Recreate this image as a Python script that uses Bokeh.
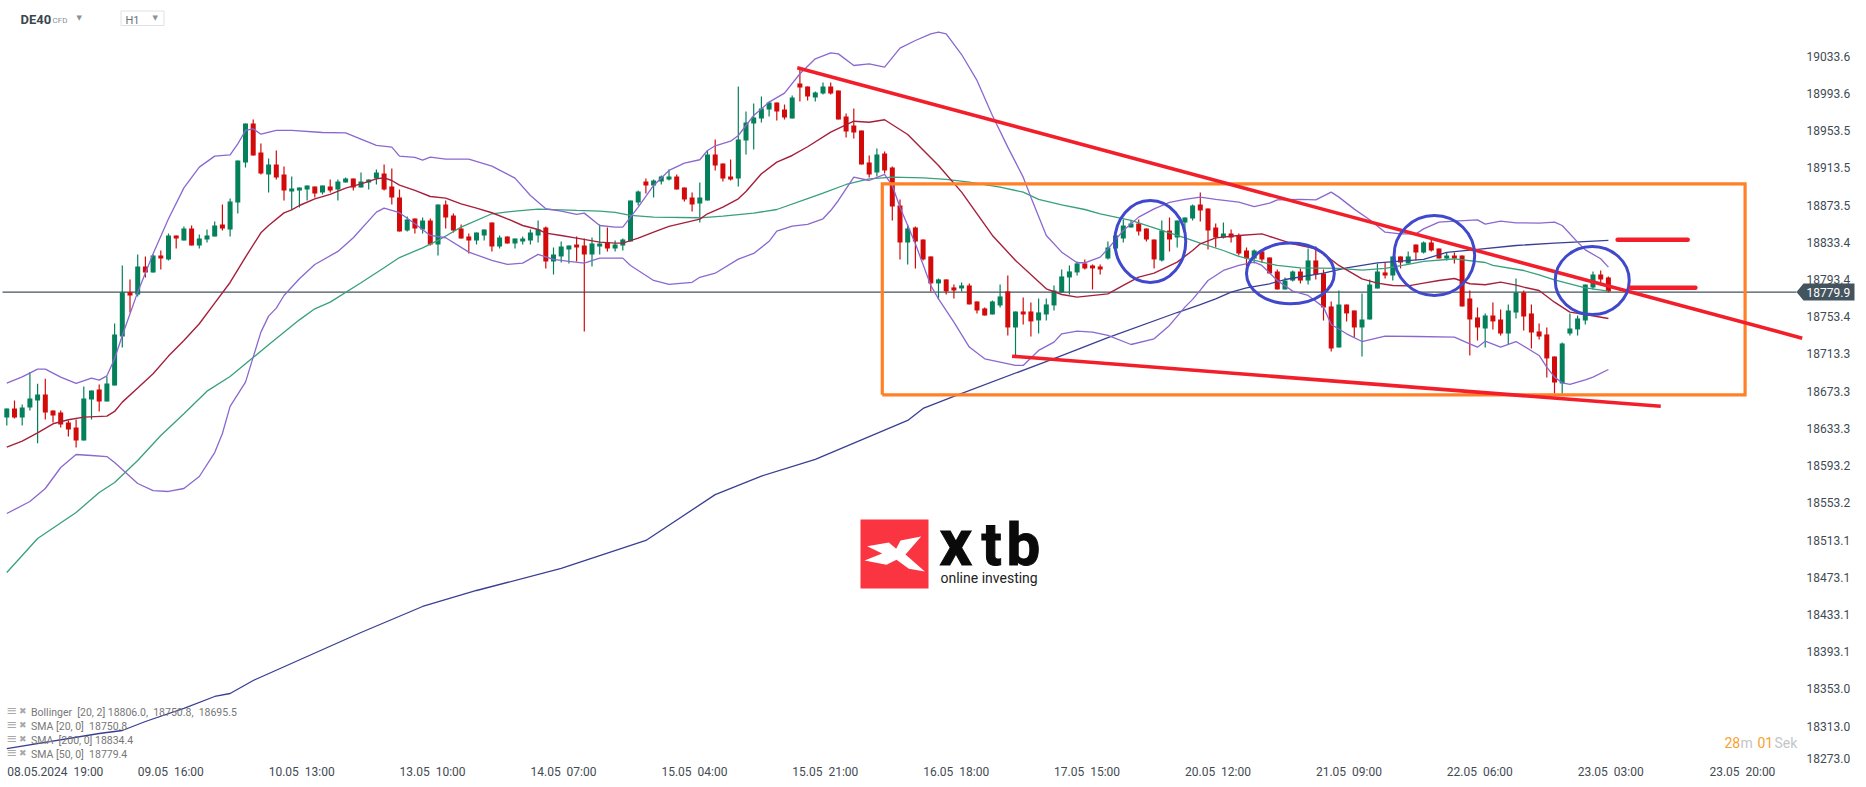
from bokeh.plotting import figure
from bokeh.models import ColumnDataSource, FixedTicker, Label, Range1d
from bokeh.embed import file_html
from bokeh.resources import INLINE

# ---------- data: open / high / low / close per hourly bar ----------
opens = [18645.0,18654.7,18645.0,18655.8,18663.3,18669.8,18652.5,18650.4,18639.6,18634.3,18620.3,18664.4,18675.1,18662.2,18679.4,18732.1,18779.8,18777.3,18807.4,18801.0,18819.3,18815.0,18840.8,18835.4,18848.3,18830.0,18836.5,18839.7,18852.6,18847.2,18876.3,18919.3,18961.2,18930.0,18906.4,18917.1,18906.4,18888.1,18889.2,18890.2,18893.5,18887.0,18893.5,18890.2,18897.8,18902.1,18892.4,18897.8,18902.1,18907.4,18893.5,18881.6,
18846.2,18859.1,18847.2,18856.9,18831.1,18874.1,18862.3,18848.3,18839.7,18835.4,18840.8,18854.8,18829.0,18839.7,18832.2,18834.3,18835.4,18840.8,18849.4,18812.8,18818.2,18825.7,18831.1,18830.0,18820.4,18829.0,18833.3,18826.8,18830.0,18834.3,18876.3,18898.9,18894.6,18898.9,18901.0,18904.2,18892.4,18881.7,18875.2,18878.4,18927.9,18918.2,18904.2,18902.1,18943.0,18961.2,18966.6,18976.3,18983.8,18976.3,18966.6,19004.3,
19001.0,18989.2,18993.5,19001.0,18996.7,18968.8,18959.1,18953.7,18919.3,18908.5,18929.0,18913.9,18873.1,18833.3,18849.4,18836.5,18818.2,18789.2,18793.5,18784.9,18783.8,18787.0,18769.8,18762.3,18755.8,18765.5,18780.6,18741.8,18759.0,18759.0,18749.4,18755.8,18765.5,18779.5,18795.6,18801.0,18810.7,18808.5,18807.4,18816.0,18826.8,18837.6,18849.4,18853.7,18848.3,18836.5,18813.9,18846.2,18838.6,18854.8,18859.1,18874.1,
18869.8,18849.4,18838.6,18842.9,18840.7,18824.6,18816.0,18823.5,18817.1,18802.0,18782.7,18792.3,18802.0,18792.3,18813.9,18799.9,18764.4,18720.3,18766.5,18760.1,18741.8,18750.4,18783.7,18801.0,18797.7,18818.2,18810.6,18831.1,18822.5,18833.2,18826.8,18816.0,18819.2,18819.2,18773.0,18752.6,18740.7,18754.7,18750.4,18735.3,18757.9,18779.4,18756.9,18737.5,18734.3,18710.6,18681.6,18735.3,18739.7,18749.3,18784.8,18798.8,18795.6]
highs = [18654.7,18663.3,18659.0,18693.8,18681.2,18686.6,18652.5,18652.5,18641.8,18642.9,18678.4,18674.1,18680.5,18689.1,18746.1,18808.5,18793.4,18820.3,18818.2,18820.3,18824.6,18842.9,18840.8,18850.4,18851.5,18841.8,18847.2,18855.8,18874.1,18880.6,18921.4,18961.2,18965.5,18939.7,18923.6,18932.2,18915.0,18904.2,18892.4,18894.5,18893.5,18894.5,18901.0,18901.0,18903.1,18902.1,18908.5,18901.0,18911.7,18917.1,18912.8,18890.2,
18861.2,18859.1,18860.1,18859.1,18874.1,18878.4,18864.4,18852.6,18842.9,18844.0,18847.2,18854.8,18840.8,18839.7,18837.6,18839.7,18847.2,18856.9,18850.5,18827.9,18834.3,18830.0,18839.7,18837.6,18838.6,18852.6,18849.4,18835.4,18837.6,18878.4,18889.2,18902.1,18901.0,18905.3,18911.8,18906.4,18892.4,18887.0,18897.8,18932.2,18944.0,18918.2,18922.5,19001.0,18974.1,18982.8,18990.3,18984.9,18983.8,18981.7,18991.4,19020.4,
19001.0,18995.7,19005.3,19005.3,18996.7,18972.0,18977.4,18953.7,18926.8,18934.4,18931.1,18915.0,18879.5,18852.6,18850.5,18836.5,18818.2,18794.5,18793.5,18788.1,18790.2,18789.2,18769.8,18763.3,18770.9,18788.1,18797.8,18759.0,18774.1,18768.7,18773.0,18773.0,18787.0,18804.2,18808.5,18812.8,18815.0,18809.6,18809.6,18834.3,18846.2,18858.0,18856.9,18858.0,18848.3,18836.5,18856.9,18860.1,18856.9,18860.1,18874.1,18887.0,
18869.8,18853.7,18854.7,18847.2,18842.9,18827.8,18825.7,18825.7,18817.1,18804.2,18795.6,18803.1,18805.3,18826.8,18828.9,18804.2,18769.8,18781.6,18766.5,18760.1,18778.4,18793.4,18810.6,18811.7,18818.2,18818.2,18823.5,18831.1,18834.3,18836.4,18826.8,18822.5,18822.5,18819.2,18781.6,18763.3,18756.9,18768.7,18761.2,18766.5,18794.5,18781.6,18766.5,18746.1,18741.8,18710.6,18725.7,18756.9,18754.7,18788.0,18802.0,18803.1,18796.7]
lows = [18636.4,18643.9,18636.4,18652.5,18617.4,18642.9,18639.6,18634.3,18624.6,18612.8,18620.3,18642.9,18651.5,18662.2,18679.4,18720.3,18757.9,18775.2,18795.6,18801.0,18804.2,18813.9,18826.8,18835.4,18830.0,18826.8,18833.2,18839.7,18846.1,18839.7,18864.4,18913.9,18926.8,18906.4,18887.0,18901.0,18878.4,18868.7,18870.9,18878.4,18881.6,18884.9,18887.0,18878.4,18897.8,18889.2,18892.4,18890.2,18895.6,18889.2,18874.1,18845.1,
18845.1,18842.9,18842.9,18830.0,18819.3,18848.3,18844.0,18837.6,18821.4,18831.1,18835.4,18823.6,18826.8,18832.2,18826.8,18831.1,18831.1,18833.3,18805.3,18798.8,18811.7,18810.7,18812.8,18737.5,18807.4,18820.4,18823.6,18823.6,18824.7,18834.3,18873.1,18886.0,18881.7,18895.6,18899.9,18890.3,18877.4,18866.6,18854.8,18878.4,18910.7,18898.9,18899.9,18893.5,18927.9,18933.3,18962.3,18968.8,18964.5,18965.5,18966.6,18984.9,
18986.0,18984.9,18992.4,18992.4,18965.5,18946.2,18945.1,18917.1,18903.2,18904.2,18907.5,18856.9,18815.0,18809.6,18805.3,18813.9,18780.6,18772.0,18777.3,18773.0,18780.6,18766.6,18756.9,18754.7,18755.8,18763.3,18733.2,18709.6,18745.1,18732.2,18735.4,18749.4,18760.1,18779.5,18777.3,18797.8,18804.2,18782.7,18798.8,18815.0,18826.8,18833.3,18849.4,18840.8,18834.3,18805.3,18812.8,18823.6,18827.9,18840.8,18856.9,18855.8,
18825.7,18827.8,18837.5,18833.2,18819.2,18807.4,18810.6,18811.7,18799.9,18782.7,18782.7,18791.3,18789.1,18788.0,18793.4,18749.3,18716.0,18720.3,18748.3,18731.0,18710.6,18750.4,18783.7,18794.5,18792.3,18805.3,18810.6,18813.9,18821.4,18823.5,18816.0,18813.9,18810.6,18764.4,18711.7,18727.8,18720.3,18739.7,18733.2,18723.5,18751.5,18738.6,18719.2,18728.9,18688.0,18670.8,18670.4,18733.2,18733.2,18745.0,18782.7,18788.0,18779.4]
closes = [18654.7,18645.0,18655.8,18665.5,18669.8,18650.4,18647.2,18637.5,18632.1,18620.3,18665.5,18674.1,18662.2,18681.6,18734.3,18779.8,18776.2,18807.4,18801.0,18819.3,18816.0,18840.8,18837.5,18848.3,18830.0,18837.5,18840.8,18851.5,18848.3,18877.3,18921.4,18961.2,18926.8,18907.4,18917.1,18903.1,18889.2,18891.3,18892.4,18894.5,18885.9,18894.5,18889.2,18898.8,18902.1,18892.4,18898.8,18901.0,18908.5,18890.2,18881.6,18845.1,
18858.0,18848.3,18856.9,18831.1,18874.1,18860.1,18846.2,18837.6,18835.4,18844.0,18847.2,18829.0,18838.6,18832.2,18837.6,18837.6,18844.0,18847.2,18812.8,18820.4,18829.0,18830.0,18827.9,18820.4,18832.2,18832.2,18826.8,18831.1,18836.5,18878.4,18888.1,18894.6,18899.9,18904.2,18904.2,18890.3,18879.5,18874.1,18881.7,18927.9,18916.1,18902.1,18901.0,18944.0,18962.3,18967.7,18977.4,18983.8,18974.1,18967.7,18989.2,19000.0,
18990.3,18994.6,19001.0,18993.5,18965.5,18952.6,18951.6,18917.1,18906.4,18927.9,18910.7,18872.0,18833.3,18848.3,18834.3,18815.0,18789.2,18793.5,18780.6,18781.6,18787.0,18766.6,18760.1,18754.7,18769.8,18775.2,18741.8,18759.0,18755.8,18748.3,18758.0,18766.6,18781.6,18796.7,18802.1,18810.7,18805.3,18805.3,18804.2,18827.9,18840.8,18851.5,18853.7,18845.1,18836.5,18815.0,18846.2,18836.5,18856.9,18860.1,18873.1,18867.7,
18846.1,18838.6,18842.9,18838.6,18821.4,18816.0,18824.6,18814.9,18799.9,18782.7,18792.3,18802.0,18792.3,18813.9,18798.8,18763.3,18719.2,18766.5,18756.9,18741.8,18750.4,18788.0,18802.0,18797.7,18818.2,18811.7,18818.2,18822.5,18833.2,18824.6,18816.0,18819.2,18816.0,18764.4,18750.4,18741.8,18754.7,18748.3,18735.3,18760.1,18779.4,18753.6,18736.4,18732.1,18708.5,18682.6,18724.6,18740.7,18751.5,18788.0,18798.8,18793.4,18780.5]

bb_up_bars = [0,2,4,5,7,9,11,12,13,14,15,17,19,21,23,25,27,29,30,31,32,33,35,37,41,44,46,48,50,51,53,54,55,57,60,63,66,68,70,72,74,75,77,79,80,82,84,86,88,90,91,92,94,95,97,99,101,103,105,107,108,110,112,114,116,118,120,121,122,124,126,128,130,132,133,135,137,139,140,142,143,145,147,149,151,153,155,157,160,162,164,165,168,170,172,173,175,177,179,181,183,184,186,188,191,192,194,196,199,201,202,204,205,207,208]
bb_up_vals = [18681.9,18688.7,18697.0,18697.0,18688.4,18681.6,18687.3,18685.2,18689.8,18708.1,18733.2,18779.8,18821.0,18858.7,18892.0,18914.3,18926.1,18927.5,18939.3,18953.7,18955.5,18949.7,18953.7,18953.7,18951.5,18951.2,18944.4,18937.6,18935.8,18926.1,18924.7,18921.8,18925.0,18922.9,18922.9,18915.4,18902.4,18883.8,18869.5,18867.0,18863.4,18864.8,18851.5,18849.8,18849.8,18871.3,18894.6,18910.7,18918.6,18922.2,18932.2,18937.2,18942.2,18948.3,18969.8,18984.2,18993.9,19014.7,19030.8,19037.2,19036.1,19023.6,19025.4,19021.8,19042.2,19050.5,19057.6,19059.4,19057.6,19035.4,19007.5,18969.8,18935.8,18903.5,18882.0,18840.8,18822.8,18811.4,18811.4,18817.5,18826.4,18846.1,18860.5,18869.4,18876.3,18879.5,18882.0,18879.5,18876.6,18871.9,18875.5,18879.1,18879.5,18879.1,18887.4,18882.0,18869.1,18857.6,18844.3,18842.5,18842.5,18847.9,18855.1,18856.2,18857.6,18852.9,18856.2,18854.4,18854.0,18855.1,18851.5,18833.6,18825.3,18815.7,18806.7]

bb_lo_bars = [0,3,5,7,9,11,13,14,15,17,19,21,23,25,27,28,29,31,32,33,34,35,36,38,40,43,45,48,49,51,53,55,57,60,63,65,67,69,71,73,75,77,80,81,84,86,89,90,92,95,97,99,100,102,104,106,107,108,110,112,114,115,116,118,120,121,123,125,127,129,131,132,134,136,137,139,141,143,146,149,151,153,154,155,156,158,160,162,163,165,167,169,171,172,174,176,179,183,188,190,191,192,194,196,199,200,201,202,203,205,206,208]
bb_lo_vals = [18541.7,18554.6,18568.6,18591.2,18605.2,18604.1,18603.0,18596.6,18589.0,18574.0,18566.4,18565.4,18568.6,18581.5,18607.3,18627.8,18657.0,18683.0,18709.9,18736.8,18754.0,18762.6,18776.2,18794.2,18809.6,18823.6,18838.3,18865.9,18870.2,18865.3,18853.3,18840.8,18838.3,18822.9,18813.9,18809.6,18811.0,18820.4,18815.0,18812.8,18811.0,18816.4,18816.4,18808.5,18792.4,18788.1,18790.4,18795.8,18800.2,18815.3,18821.4,18834.5,18845.4,18850.8,18852.8,18858.7,18867.6,18878.4,18903.5,18899.9,18906.4,18894.5,18871.2,18831.8,18787.0,18772.6,18747.5,18720.7,18708.1,18704.5,18701.0,18701.0,18717.1,18726.0,18735.0,18737.9,18736.8,18733.2,18723.5,18729.6,18744.0,18763.7,18772.0,18782.0,18792.3,18803.1,18808.5,18812.1,18808.5,18792.3,18780.9,18776.2,18763.7,18745.0,18735.0,18726.7,18732.5,18732.1,18731.4,18724.2,18720.6,18727.1,18720.6,18726.7,18711.7,18699.1,18688.4,18682.3,18680.5,18685.5,18688.4,18696.6]

sma20_bars = [0,2,4,6,8,10,13,14,15,17,19,21,23,25,27,29,31,33,34,36,37,38,40,42,44,46,48,49,50,51,53,55,57,59,61,63,65,67,69,70,72,74,77,79,80,82,84,86,90,91,93,95,96,98,100,102,104,107,110,112,114,117,121,124,128,131,135,137,139,143,145,147,149,152,154,155,157,160,163,164,167,170,171,173,176,178,180,182,184,186,188,190,192,194,196,197,199,201,203,205,208]
sma20_vals = [18613.1,18619.6,18628.5,18638.2,18642.5,18645.4,18646.5,18651.5,18661.5,18676.6,18692.0,18711.0,18727.8,18745.8,18768.0,18790.2,18817.5,18843.6,18851.5,18865.1,18868.4,18873.0,18880.2,18884.9,18891.7,18896.3,18901.7,18902.8,18899.9,18894.9,18889.2,18882.7,18880.9,18874.8,18870.2,18865.2,18858.7,18851.5,18847.2,18843.3,18840.8,18837.9,18833.6,18832.5,18832.5,18837.9,18844.4,18850.5,18858.4,18864.1,18871.3,18880.2,18888.1,18907.1,18919.7,18926.8,18936.2,18951.9,18963.7,18962.6,18965.2,18949.4,18916.0,18887.4,18840.8,18813.9,18783.4,18777.3,18774.4,18778.0,18787.0,18796.0,18800.3,18812.1,18824.6,18831.8,18838.2,18840.7,18842.5,18839.7,18831.8,18826.4,18821.0,18808.5,18794.1,18789.5,18787.0,18786.6,18789.5,18792.4,18794.5,18788.8,18787.7,18790.6,18787.3,18785.2,18781.6,18769.0,18758.3,18755.8,18751.5]

sma50_bars = [0,4,9,12,14,17,20,23,26,29,31,34,38,40,42,46,49,51,54,56,59,63,66,69,74,77,79,81,84,90,93,97,100,104,106,109,112,115,119,122,125,129,132,134,137,140,142,146,149,153,155,158,160,163,165,168,173,176,179,182,184,187,188,192,193,197,199,201,203,205,208]
sma50_vals = [18478.3,18514.8,18542.8,18564.3,18575.1,18598.7,18625.6,18649.0,18673.3,18689.1,18702.7,18723.2,18750.0,18761.9,18769.1,18789.9,18806.0,18817.0,18827.5,18835.4,18849.8,18864.1,18867.0,18869.1,18867.7,18867.0,18865.5,18862.3,18860.5,18859.8,18861.6,18864.8,18868.7,18880.5,18886.3,18895.6,18901.7,18903.5,18902.8,18901.0,18898.1,18892.7,18887.4,18879.5,18873.7,18868.7,18864.1,18856.9,18849.0,18838.3,18832.5,18824.6,18818.2,18812.1,18808.5,18806.0,18805.3,18803.5,18805.3,18809.6,18812.8,18814.9,18815.6,18811.7,18808.5,18803.1,18798.4,18793.0,18788.8,18784.5,18780.9]

sma200_bars = [0,12,15,18,23,27,29,32,46,54,61,72,83,92,98,105,111,117,119,123,136,143,152,155,157,159,161,164,166,171,174,178,184,187,191,196,201,208]
sma200_vals = [18288.9,18305.1,18308.3,18318.0,18332.0,18344.9,18348.1,18362.1,18413.7,18441.7,18458.9,18482.6,18512.7,18562.0,18582.0,18600.0,18621.0,18641.8,18654.7,18667.6,18708.4,18731.0,18757.9,18766.5,18772.6,18779.8,18784.5,18788.8,18793.4,18800.2,18806.0,18811.3,18815.0,18822.5,18825.7,18830.0,18832.5,18835.4]

last_price = 18779.9
y_ticks = [19033.6,18993.6,18953.5,18913.5,18873.5,18833.4,18793.4,18753.4,18713.3,18673.3,18633.3,18593.2,18553.2,18513.1,18473.1,18433.1,18393.1,18353.0,18313.0]
y_tick_last = 18278.5
y_tick_last_label = "18273.0"
x_ticks = [6.3,21.3,38.3,55.3,72.3,89.3,106.3,123.3,140.3,157.3,174.3,191.3,208.3,225.4]
x_labels = ["08.05.2024\u00a0\u00a019:00","09.05\u00a0\u00a016:00","10.05\u00a0\u00a013:00","13.05\u00a0\u00a010:00","14.05\u00a0\u00a007:00","15.05\u00a0\u00a004:00","15.05\u00a0\u00a021:00","16.05\u00a0\u00a018:00","17.05\u00a0\u00a015:00","20.05\u00a0\u00a012:00","21.05\u00a0\u00a009:00","22.05\u00a0\u00a006:00","23.05\u00a0\u00a003:00","23.05\u00a0\u00a020:00"]

# hand-drawn annotations, in bar / price coordinates
trend_hi_bars, trend_hi_vals = [102.66, 233.17], [19021.1, 18730.3]
trend_lo_bars, trend_lo_vals = [130.55, 214.8], [18710.9, 18657.1]
box_bars, box_vals = (113.7, 225.75), (18669.4, 18896.3)
ring_bars = [148.5, 166.7, 185.4, 205.9]
ring_vals = [18834.3, 18799.9, 18819.2, 18792.3]
ring_w = [9.22, 11.4, 10.47, 9.61]
ring_h = [88.2, 65.3, 86.0, 73.1]
level_a_bars, level_a_val = [209.2, 218.3], 18836.1
level_b_bars, level_b_val = [210.9, 219.3], 18784.5

legend_rows = ["Bollinger\u00a0\u00a0[20,\u00a02]\u00a018806.0,\u00a0\u00a018750.8,\u00a0\u00a018695.5",
               "SMA\u00a0[20,\u00a00]\u00a0\u00a018750.8", "SMA\u00a0\u00a0[200,\u00a00]\u00a018834.4", "SMA\u00a0[50,\u00a00]\u00a0\u00a018779.4"]

# ---------- scale ----------
PX0, PITCH = 6.3, 7.7
P0, PSCALE = 19093.5, 1.0756
FRAME_W, FRAME_H, BOTTOM = 1858, 762, 17
LABEL_X = 1806
def bar_of(px): return (px - PX0) / PITCH
def price_of(py): return P0 - PSCALE * py

GREEN, RED = "#04805a", "#d20a0a"
p = figure(frame_width=FRAME_W, frame_height=FRAME_H, output_backend="svg", toolbar_location=None,
           x_range=Range1d(bar_of(0), bar_of(FRAME_W)), y_range=Range1d(price_of(FRAME_H), price_of(0)),
           x_axis_location="below", y_axis_location="right",
           min_border_left=0, min_border_top=0, min_border_right=0, min_border_bottom=BOTTOM,
           background_fill_color="white", border_fill_color="white", outline_line_color=None)
p.grid.visible = False

xa, ya = p.xaxis[0], p.yaxis[0]
xa.ticker = FixedTicker(ticks=x_ticks)
xa.major_label_overrides = dict(zip(x_ticks, x_labels))
ya.ticker = FixedTicker(ticks=y_ticks + [y_tick_last])
ya.major_label_overrides = {**{t: f"{t:.1f}" for t in y_ticks}, y_tick_last: y_tick_last_label}
for ax in (xa, ya):
    ax.axis_line_color = None
    ax.major_tick_line_color = None
    ax.minor_tick_line_color = None
    ax.major_tick_out = 0
    ax.major_tick_in = 0
    ax.major_label_text_font = "Roboto"
    ax.major_label_text_font_size = "12px"
    ax.major_label_text_color = "#3f4b53"
xa.major_label_standoff = 2
ya.major_label_standoff = LABEL_X - FRAME_W

# logo
p.quad(left=bar_of(860), right=bar_of(928), top=price_of(519), bottom=price_of(588), fill_color="#fa3441", line_color=None)
logo_x = [800+v/3 for v in (200,265,287,300,362,315,373,325,288,258,192,245)]
logo_y = [480+v/3 for v in (197,186,205,180,168,222,273,265,238,253,240,219)]
p.patch([bar_of(v) for v in logo_x], [price_of(v) for v in logo_y], fill_color="white", line_color=None)

# horizontal price line
p.line([bar_of(2), bar_of(1796)], [last_price, last_price], line_color="#44545e", line_width=1.2)

# candles
up = [c >= o for o, c in zip(opens, closes)]
src = ColumnDataSource(dict(x=list(range(len(opens))), top=[max(o, c) for o, c in zip(opens, closes)],
                            bottom=[min(o, c) for o, c in zip(opens, closes)], h=highs, l=lows,
                            color=[GREEN if u else RED for u in up]))
p.segment("x", "l", "x", "h", source=src, line_color="color", line_width=1.2)
p.vbar(x="x", width=5/PITCH, top="top", bottom="bottom", source=src, fill_color="color", line_color=None)

# indicator lines
p.line(sma200_bars, sma200_vals, line_color="#3a3f92", line_width=1.3)
p.line(sma50_bars, sma50_vals, line_color="#38a07c", line_width=1.3)
p.line(bb_up_bars, bb_up_vals, line_color="#8a68cf", line_width=1.3)
p.line(bb_lo_bars, bb_lo_vals, line_color="#8a68cf", line_width=1.3)
p.line(sma20_bars, sma20_vals, line_color="#a6203c", line_width=1.4)

# drawings
p.line([box_bars[0], box_bars[1], box_bars[1], box_bars[0], box_bars[0]],
       [box_vals[0], box_vals[0], box_vals[1], box_vals[1], box_vals[0]], line_color="#ff8026", line_width=3.2, line_join="miter")
p.line(trend_hi_bars, trend_hi_vals, line_color="#f21f2b", line_width=3.6)
p.line(trend_lo_bars, trend_lo_vals, line_color="#f21f2b", line_width=3.6)
p.ellipse(ring_bars, ring_vals, width=ring_w, height=ring_h, fill_color=None, line_color="#4048cc", line_width=3)
p.line(level_a_bars, [level_a_val]*2, line_color="#f21f2b", line_width=4.5, line_cap="round")
p.line(level_b_bars, [level_b_val]*2, line_color="#f21f2b", line_width=4.5, line_cap="round")

# header chip
p.quad(left=bar_of(120.5), right=bar_of(163.5), top=price_of(10.5), bottom=price_of(25), fill_color="white", line_color="#dfe2e4", line_width=1)

def label(px, py, text, size, color, font="Roboto", style="normal", align="left", base="middle", **kw):
    p.add_layout(Label(x=bar_of(px), y=price_of(py), text=text, text_font_size=f"{size}px", text_color=color,
                       text_font=font, text_font_style=style, text_align=align, text_baseline=base, **kw))

label(20, 19, "DE40", 13, "#3a4750", style="bold")
label(52, 19.5, "CFD", 8, "#8a9097")
label(76, 17, "▼", 7, "#8a9097", font="DejaVu Sans")
label(125, 20, "H1", 11, "#6b7379")
label(152, 17.5, "▼", 7, "#8a9097", font="DejaVu Sans")

# legend rows
for row, py in zip(legend_rows, (712.2, 726.2, 740.2, 754.2)):
    label(6, py-2, "≡", 13, "#a8a8a8", font="DejaVu Sans")
    label(18.5, py-2, "✖", 9, "#a8a8a8", font="DejaVu Sans")
    label(30.5, py, row, 10.5, "#777777")

# countdown
label(1724, 742, "28", 14, "#f7a12f")
label(1740, 742, "m", 14, "#c2c6ca")
label(1757, 742, "01", 14, "#f7a12f")
label(1774, 742, "Sek", 14, "#c2c6ca")

# logo text
label(939, 542.6, "x", 64, "#0a0a0a", style="bold", text_outline_color="#0a0a0a")
label(981, 544, "t", 60, "#0a0a0a", style="bold", text_outline_color="#0a0a0a")
label(1006, 544, "b", 60, "#0a0a0a", style="bold", text_outline_color="#0a0a0a")
label(940, 577, "online investing", 14, "#222222")

# last-price tag
tag_x = [1796, 1803, 1854, 1854, 1803]
tag_y = [last_price, price_of(283), price_of(283), price_of(300), price_of(300)]
p.patch([bar_of(v) for v in tag_x], tag_y, fill_color="#44545e", line_color=None)
label(LABEL_X, 291.5, f"{last_price:.1f}", 12, "white")

open("out.html", "w").write(file_html(p, INLINE))
